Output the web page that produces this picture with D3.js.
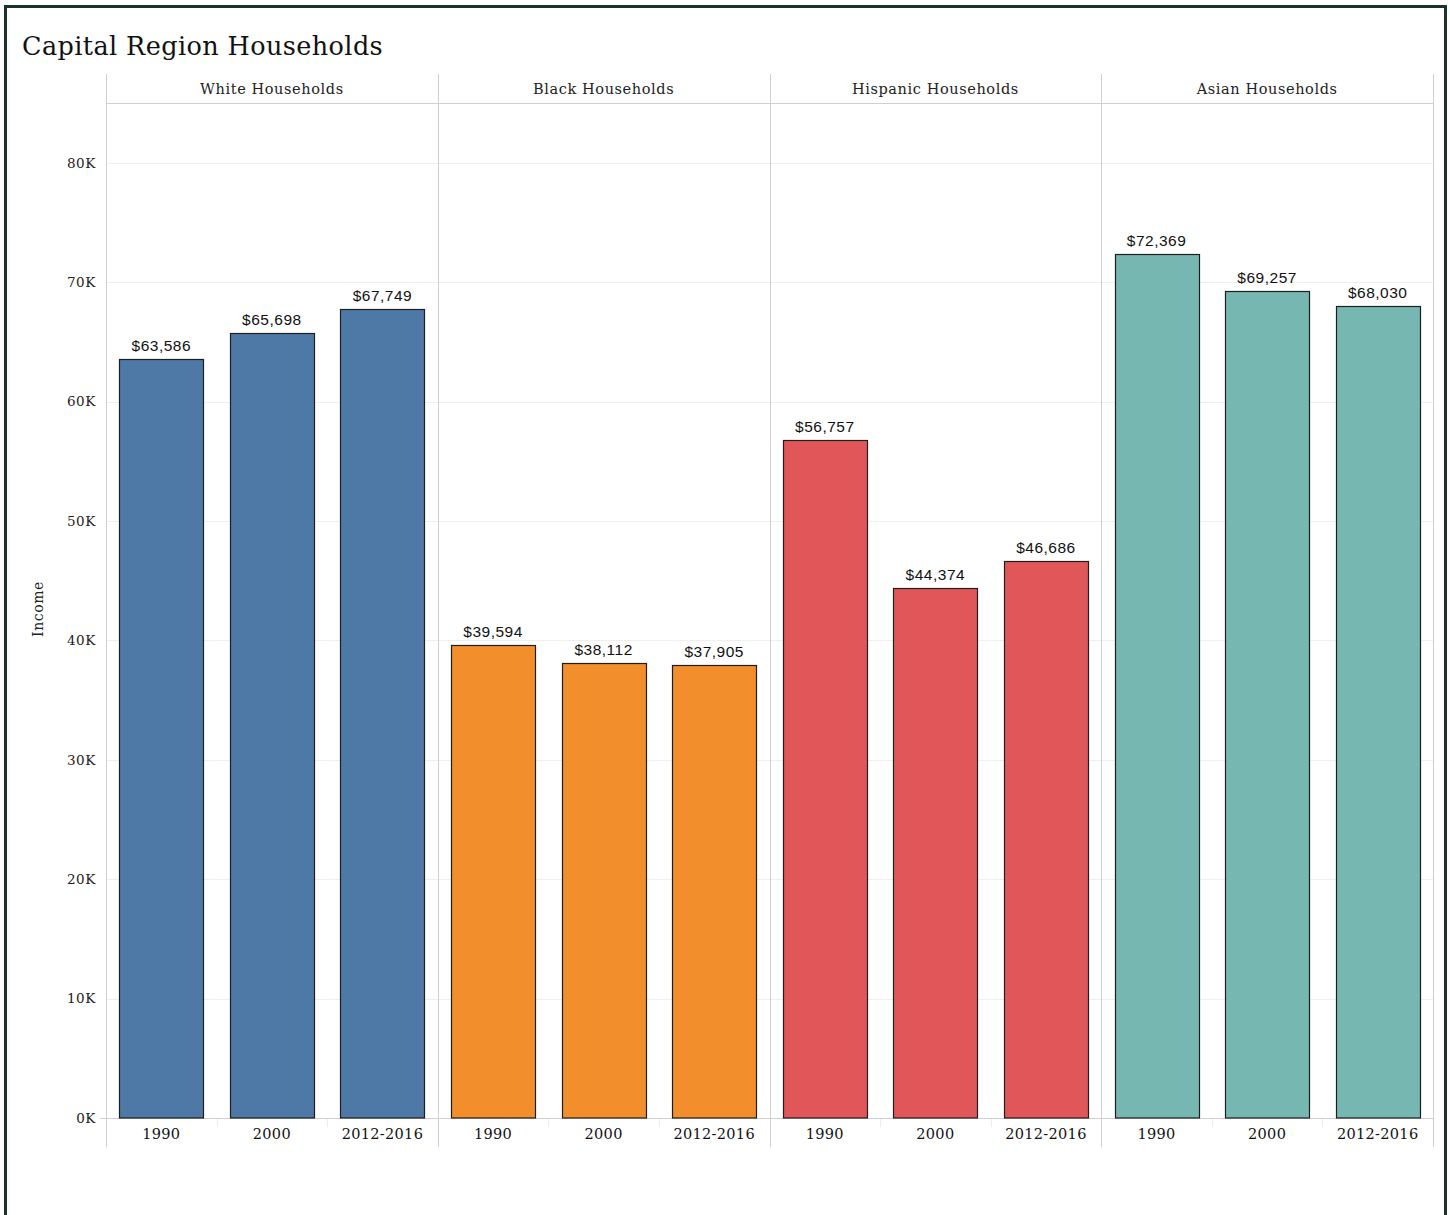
<!DOCTYPE html>
<html>
<head>
<meta charset="utf-8">
<script src="https://cdn.jsdelivr.net/npm/d3@7"></script>
<style>
  html, body { margin: 0; padding: 0; background: #fff; }
  svg { display: block; }
</style>
</head>
<body>
<script>
// Median household income by race, Capital Region
const groups = ["White Households", "Black Households", "Hispanic Households", "Asian Households"];
const periods = ["1990", "2000", "2012-2016"];
const whiteIncome = [63586, 65698, 67749];
const blackIncome = [39594, 38112, 37905];
const hispanicIncome = [56757, 44374, 46686];
const asianIncome = [72369, 69257, 68030];
const groupColors = ["#4e79a7", "#f28e2b", "#e15759", "#76b7b2"];
const yTicks = [0, 10000, 20000, 30000, 40000, 50000, 60000, 70000, 80000];

const incomes = [whiteIncome, blackIncome, hispanicIncome, asianIncome];

const W = 1450, H = 1215;
const serif = "'DejaVu Serif', 'Liberation Serif', serif";
const sans = "'Liberation Sans', Arial, sans-serif";

const svg = d3.select("body").append("svg").attr("width", W).attr("height", H);

// outer frame (open at the bottom)
svg.append("path")
  .attr("d", `M5.5,${H + 5} V6.5 H1445.5 V${H + 5}`)
  .attr("fill", "none").attr("stroke", "#17332a").attr("stroke-width", 3);

svg.append("text")
  .attr("x", 22).attr("y", 55)
  .attr("font-family", serif).attr("font-size", 25.5)
  .attr("letter-spacing", 0.4)
  .attr("fill", "#111")
  .text("Capital Region Households");

const plotLeft = 106, plotRight = 1433;
const headerTop = 74, headerBottom = 103;
const axisY = 1118, bottomExt = 1147;

const panel = d3.scaleBand().domain(groups).range([plotLeft, plotRight]);
const y = d3.scaleLinear().domain([0, 85000]).range([axisY, headerBottom]);

// gridlines
svg.append("g").selectAll("line").data(yTicks.filter(d => d > 0)).join("line")
  .attr("x1", plotLeft).attr("x2", plotRight)
  .attr("y1", d => Math.round(y(d)) + 0.5).attr("y2", d => Math.round(y(d)) + 0.5)
  .attr("stroke", "#efefef").attr("stroke-width", 1);

// y axis labels
const yAxis = d3.axisLeft(y).tickValues(yTicks)
  .tickFormat(d => (d / 1000) + "K").tickSize(0).tickPadding(10);
const yg = svg.append("g").attr("transform", `translate(${plotLeft},0)`).call(yAxis);
yg.select(".domain").remove();
yg.selectAll("text").attr("font-family", serif).attr("font-size", 13.5)
  .attr("letter-spacing", 0.6).attr("fill", "#222");

svg.append("text")
  .attr("transform", `translate(43,609) rotate(-90)`)
  .attr("text-anchor", "middle")
  .attr("font-family", serif).attr("font-size", 14).attr("letter-spacing", 0.6)
  .attr("fill", "#222")
  .text("Income");

// header band
svg.append("line")
  .attr("x1", plotLeft).attr("x2", plotRight)
  .attr("y1", headerBottom + 0.5).attr("y2", headerBottom + 0.5)
  .attr("stroke", "#d0d0d0");

// panel separators
const seps = groups.map(g => panel(g)).concat([plotRight]);
svg.append("g").selectAll("line").data(seps).join("line")
  .attr("x1", d => Math.round(d) + 0.5).attr("x2", d => Math.round(d) + 0.5)
  .attr("y1", headerTop).attr("y2", bottomExt)
  .attr("stroke", "#d0d0d0");

// bottom axis line
svg.append("line")
  .attr("x1", 100).attr("x2", plotRight)
  .attr("y1", axisY + 0.5).attr("y2", axisY + 0.5)
  .attr("stroke", "#d0d0d0");

groups.forEach((g, gi) => {
  const x0 = panel(g);
  const x = d3.scaleBand().domain(periods).range([x0, x0 + panel.bandwidth()]).paddingInner(0.24).paddingOuter(0.12);
  const xFull = d3.scaleBand().domain(periods).range([x0, x0 + panel.bandwidth()]);

  svg.append("text")
    .attr("x", x0 + panel.bandwidth() / 2).attr("y", 94)
    .attr("text-anchor", "middle")
    .attr("font-family", serif).attr("font-size", 14.5).attr("letter-spacing", 0.6)
    .attr("fill", "#222")
    .text(g);

  // faint tick separators between periods
  svg.append("g").selectAll("line").data(periods.slice(1)).join("line")
    .attr("x1", d => Math.round(xFull(d)) + 0.5).attr("x2", d => Math.round(xFull(d)) + 0.5)
    .attr("y1", axisY + 1).attr("y2", axisY + 9)
    .attr("stroke", "#ececec");

  const data = periods.map((p, i) => ({ p, v: incomes[gi][i] }));
  const gg = svg.append("g");
  gg.selectAll("rect").data(data).join("rect")
    .attr("x", d => Math.round(x(d.p)) + 0.5)
    .attr("width", Math.round(x.bandwidth()))
    .attr("y", d => Math.round(y(d.v)) + 0.5)
    .attr("height", d => axisY - Math.round(y(d.v)) - 0.5)
    .attr("fill", groupColors[gi])
    .attr("stroke", "#1e1e1e").attr("stroke-width", 1.2);

  gg.selectAll("text.val").data(data).join("text")
    .attr("class", "val")
    .attr("x", d => x(d.p) + x.bandwidth() / 2)
    .attr("y", d => y(d.v) - 8)
    .attr("text-anchor", "middle")
    .attr("font-family", sans).attr("font-size", 15.5).attr("letter-spacing", 0.5)
    .attr("fill", "#111")
    .text(d => "$" + d3.format(",")(d.v));

  gg.selectAll("text.cat").data(periods).join("text")
    .attr("class", "cat")
    .attr("x", d => xFull(d) + xFull.bandwidth() / 2)
    .attr("y", 1138.5)
    .attr("text-anchor", "middle")
    .attr("font-family", serif).attr("font-size", 14.5).attr("letter-spacing", 0.3)
    .attr("fill", "#111")
    .text(d => d);
});
</script>
</body>
</html>
